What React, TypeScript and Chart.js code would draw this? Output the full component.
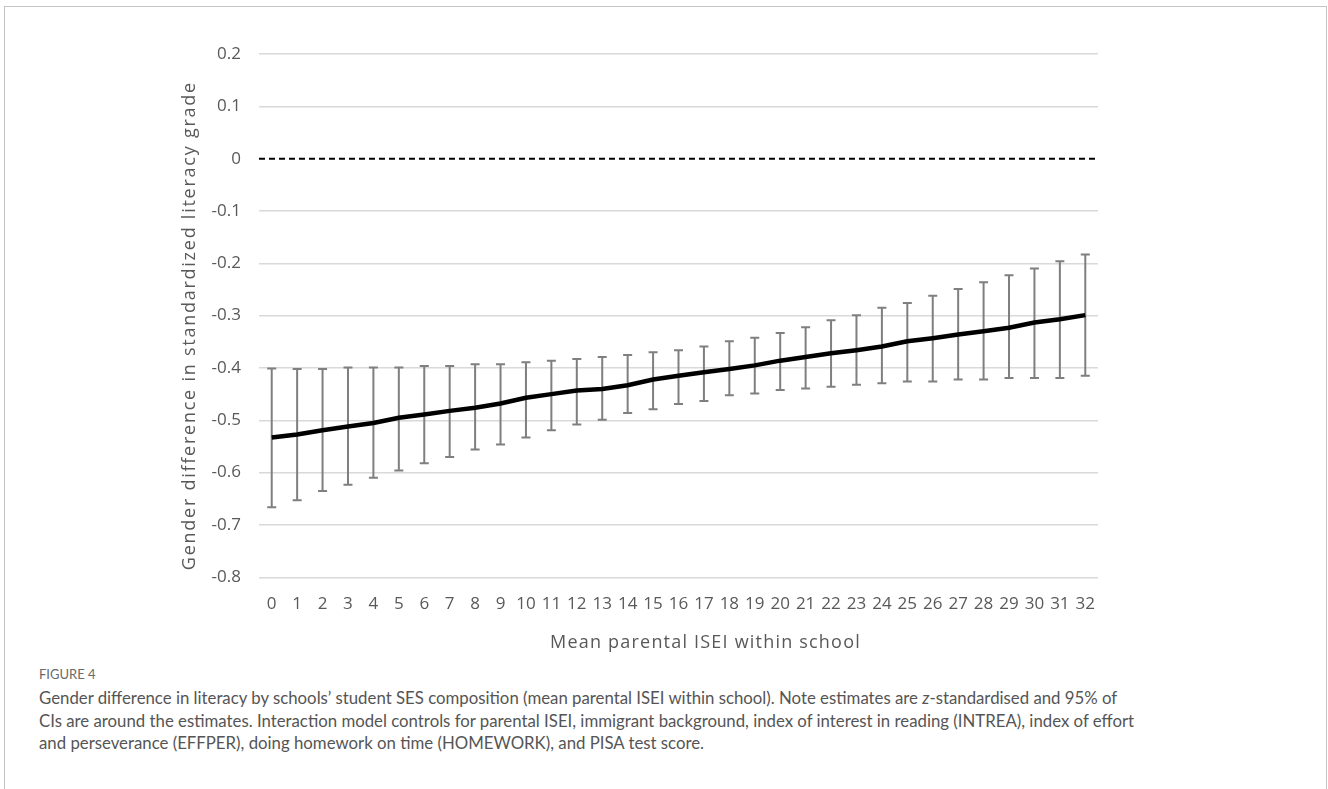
import React, { useEffect, useRef } from "react";
import { Chart, registerables } from "chart.js";

Chart.register(...registerables);

const categories = [
  "0", "1", "2", "3", "4", "5", "6", "7", "8", "9", "10", "11", "12", "13", "14", "15", "16",
  "17", "18", "19", "20", "21", "22", "23", "24", "25", "26", "27", "28", "29", "30", "31", "32",
];

const estimates = [
  -0.533, -0.527, -0.519, -0.512, -0.505, -0.495, -0.489, -0.482, -0.476, -0.468, -0.457,
  -0.45, -0.443, -0.44, -0.433, -0.422, -0.415, -0.408, -0.402, -0.395, -0.386, -0.379,
  -0.372, -0.366, -0.359, -0.349, -0.343, -0.336, -0.33, -0.323, -0.313, -0.307, -0.299,
];

const upperCI = [
  -0.401, -0.402, -0.402, -0.399, -0.399, -0.399, -0.396, -0.396, -0.393, -0.393, -0.389,
  -0.386, -0.383, -0.379, -0.375, -0.37, -0.366, -0.359, -0.349, -0.342, -0.333, -0.322,
  -0.309, -0.299, -0.285, -0.276, -0.262, -0.249, -0.236, -0.223, -0.21, -0.196, -0.183,
];

const lowerCI = [
  -0.666, -0.653, -0.635, -0.623, -0.61, -0.596, -0.582, -0.57, -0.556, -0.546, -0.533,
  -0.519, -0.508, -0.499, -0.486, -0.479, -0.469, -0.463, -0.452, -0.449, -0.442, -0.439,
  -0.436, -0.432, -0.429, -0.426, -0.426, -0.422, -0.422, -0.419, -0.419, -0.419, -0.415,
];

const yMin = -0.8;
const yMax = 0.2;
const yStep = 0.1;
const referenceValue = 0;

const yTitle = "Gender difference in standardized literacy grade";
const xTitle = "Mean parental ISEI within school";

const captionLabel = "FIGURE 4";
const captionLines = [
  ["Gender difference in literacy by schools’ student SES composition (mean parental ISEI within school). Note estimates are ", "z", "-standardised and 95% of"],
  ["CIs are around the estimates. Interaction model controls for parental ISEI, immigrant background, index of interest in reading (INTREA), index of effort"],
  ["and perseverance (EFFPER), doing homework on time (HOMEWORK), and PISA test score."],
];

const FONT = "'Open Sans', 'DejaVu Sans', sans-serif";
const TEXT = "#595959";

function patchTitle(scale: any, spacing: number, dx: number, dy: number) {
  if (scale.__titlePatched) return;
  const orig = scale.drawTitle;
  scale.drawTitle = function (...args: any[]) {
    const ctx = this.ctx;
    ctx.save();
    try {
      (ctx as any).letterSpacing = spacing + "px";
    } catch (e) {}
    ctx.translate(dx, dy);
    orig.apply(this, args);
    ctx.restore();
  };
  scale.__titlePatched = true;
}

const errorBarPlugin = {
  id: "errorBars",
  beforeDatasetsDraw(chart: any) {
    const { ctx, chartArea, scales } = chart;
    const x = scales.x;
    const y = scales.y;
    ctx.save();
    // dashed reference line at zero
    const y0 = y.getPixelForValue(referenceValue);
    ctx.strokeStyle = "#000000";
    ctx.lineWidth = 2;
    ctx.setLineDash([6, 4]);
    ctx.beginPath();
    ctx.moveTo(chartArea.left, y0);
    ctx.lineTo(chartArea.right, y0);
    ctx.stroke();
    ctx.setLineDash([]);
    // confidence intervals
    ctx.strokeStyle = "#7f7f7f";
    ctx.lineWidth = 2;
    const cap = 4.5;
    for (let i = 0; i < categories.length; i++) {
      const px = x.getPixelForValue(i);
      const pt = y.getPixelForValue(upperCI[i]);
      const pb = y.getPixelForValue(lowerCI[i]);
      ctx.beginPath();
      ctx.moveTo(px, pt);
      ctx.lineTo(px, pb);
      ctx.moveTo(px - cap, pt);
      ctx.lineTo(px + cap, pt);
      ctx.moveTo(px - cap, pb);
      ctx.lineTo(px + cap, pb);
      ctx.stroke();
    }
    ctx.restore();
  },
};

function ChartCanvas() {
  const ref = useRef<HTMLCanvasElement | null>(null);
  useEffect(() => {
    if (!ref.current) return;
    const chart = new Chart(ref.current, {
      type: "line",
      data: {
        labels: categories,
        datasets: [
          {
            label: "Estimate",
            data: estimates,
            borderColor: "#000000",
            borderWidth: 4.5,
            pointRadius: 0,
            tension: 0,
            fill: false,
          },
        ],
      },
      options: {
        animation: false,
        responsive: true,
        maintainAspectRatio: false,
        layout: { padding: { left: 175, right: 230, top: 54, bottom: 2 } },
        plugins: {
          legend: { display: false },
          tooltip: { enabled: false },
        },
        scales: {
          x: {
            type: "category",
            offset: true,
            grid: { display: false, drawTicks: false },
            border: { display: false },
            ticks: {
              autoSkip: false,
              maxRotation: 0,
              minRotation: 0,
              padding: 17,
              color: TEXT,
              font: { family: FONT, size: 17 },
            },
            title: {
              display: true,
              text: xTitle,
              color: TEXT,
              font: { family: FONT, size: 18 },
              padding: { top: 4, bottom: 4 },
            },
            afterFit(scale: any) {
              scale.height = 80.7;
              patchTitle(scale, 1.2, 27, 0);
            },
          },
          y: {
            type: "linear",
            min: yMin,
            max: yMax,
            grid: {
              drawTicks: false,
              lineWidth: 1.5,
              color: (c: any) =>
                c.tick && Math.abs(c.tick.value - referenceValue) < 1e-9 ? "rgba(0,0,0,0)" : "#d9d9d9",
            },
            border: { display: false },
            ticks: {
              stepSize: yStep,
              padding: 18,
              color: TEXT,
              font: { family: FONT, size: 17 },
              callback: (v: any) => {
                const r = Math.round(Number(v) * 10) / 10;
                return r === 0 ? "0" : r.toFixed(1);
              },
            },
            title: {
              display: true,
              text: yTitle,
              color: TEXT,
              font: { family: FONT, size: 18 },
              padding: { top: 4, bottom: 4 },
            },
            afterFit(scale: any) {
              scale.width = 84;
              patchTitle(scale, 1.75, 0, 10);
            },
          },
        },
      },
      plugins: [errorBarPlugin],
    });
    return () => chart.destroy();
  }, []);
  return (
    <div style={{ position: "absolute", left: 0, top: 0, width: 1328, height: 660 }}>
      <canvas ref={ref} />
    </div>
  );
}

export default function App() {
  return (
    <div
      style={{
        position: "absolute",
        left: 0,
        top: 0,
        width: 1328,
        height: 789,
        overflow: "hidden",
        background: "#ffffff",
      }}
    >
      <div
        style={{
          position: "absolute",
          left: 4,
          top: 6,
          width: 1323,
          height: 820,
          boxSizing: "border-box",
          border: "1px solid #c4c4c4",
        }}
      />
      <ChartCanvas />
      <div
        style={{
          position: "absolute",
          left: 39,
          top: 666,
          fontFamily: "Lato, 'Open Sans', sans-serif",
          fontSize: 13,
          lineHeight: "16px",
          color: "#6a6a6a",
          whiteSpace: "nowrap",
        }}
      >
        {captionLabel}
      </div>
      <div
        style={{
          position: "absolute",
          left: 39,
          top: 687,
          fontFamily: "Lato, 'Open Sans', sans-serif",
          fontSize: 16.8,
          lineHeight: "22.5px",
          color: "#555555",
        }}
      >
        {captionLines.map((parts, i) => (
          <div key={i} style={{ whiteSpace: "nowrap" }}>
            {parts.map((p, j) =>
              p === "z" ? (
                <i key={j}>{p}</i>
              ) : (
                <span key={j}>{p}</span>
              )
            )}
          </div>
        ))}
      </div>
    </div>
  );
}
